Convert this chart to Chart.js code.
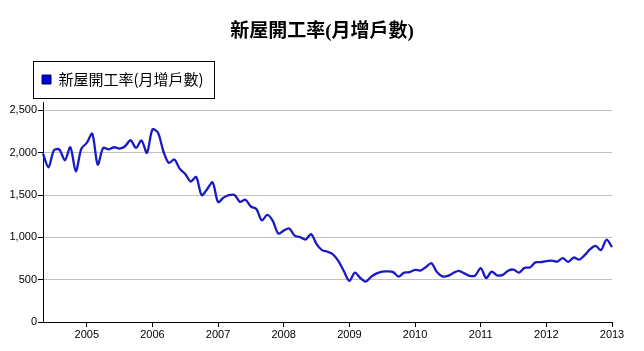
<!DOCTYPE html>
<html><head><meta charset="utf-8">
<script src="https://cdn.jsdelivr.net/npm/chart.js@4"></script>
<style>html,body{margin:0;padding:0;background:#fff}canvas{display:block}</style>
</head><body>
<canvas id="c" width="644" height="351"></canvas>
<script>
const chartTitle = '新屋開工率(月增戶數)';
const seriesName = '新屋開工率(月增戶數)';
const months = [
  '2004-05','2004-06','2004-07','2004-08','2004-09','2004-10','2004-11','2004-12',
  '2005-01','2005-02','2005-03','2005-04','2005-05','2005-06','2005-07','2005-08','2005-09','2005-10','2005-11','2005-12',
  '2006-01','2006-02','2006-03','2006-04','2006-05','2006-06','2006-07','2006-08','2006-09','2006-10','2006-11','2006-12',
  '2007-01','2007-02','2007-03','2007-04','2007-05','2007-06','2007-07','2007-08','2007-09','2007-10','2007-11','2007-12',
  '2008-01','2008-02','2008-03','2008-04','2008-05','2008-06','2008-07','2008-08','2008-09','2008-10','2008-11','2008-12',
  '2009-01','2009-02','2009-03','2009-04','2009-05','2009-06','2009-07','2009-08','2009-09','2009-10','2009-11','2009-12',
  '2010-01','2010-02','2010-03','2010-04','2010-05','2010-06','2010-07','2010-08','2010-09','2010-10','2010-11','2010-12',
  '2011-01','2011-02','2011-03','2011-04','2011-05','2011-06','2011-07','2011-08','2011-09','2011-10','2011-11','2011-12',
  '2012-01','2012-02','2012-03','2012-04','2012-05','2012-06','2012-07','2012-08','2012-09','2012-10','2012-11','2012-12',
  '2013-01'
];
const housingStarts = [
  1990, 1828, 2030, 2038, 1911, 2065, 1781, 2046,
  2117, 2225, 1860, 2058, 2040, 2065, 2050, 2077, 2148, 2058, 2145, 1999,
  2275, 2240, 2018, 1880, 1920, 1810, 1750, 1660, 1714, 1500, 1570, 1650,
  1418, 1470, 1500, 1500, 1420, 1445, 1365, 1335, 1200, 1265, 1195, 1045,
  1080, 1105, 1020, 1003, 975, 1039, 920, 850, 830, 800, 720, 600,
  486, 584, 520, 478, 537, 575, 596, 598, 589, 537, 584, 589,
  616, 608, 650, 695, 590, 540, 545, 580, 605, 575, 545, 550,
  636, 520, 596, 550, 557, 605, 620, 584, 640, 645, 705, 707,
  720, 725, 714, 755, 711, 762, 738, 790, 860, 900, 850, 972,
  885
];
const yTickValues = [0, 500, 1000, 1500, 2000, 2500];
const xTickYears = ['2005','2006','2007','2008','2009','2010','2011','2012','2013'];

const lineColor = '#1a1ac4';
const isYearTick = (i) => months[i] && months[i].endsWith('-01') && xTickYears.includes(months[i].slice(0, 4));

const boxShift = {
  id: 'boxShift',
  afterInit(chart) {
    const lg = chart.legend;
    const protoFit = Object.getPrototypeOf(lg).fit;
    lg.fit = function () { protoFit.call(this); this.height += 5; };
  },
  afterLayout(chart) {
    chart.legend.left = 32;
    if (chart.titleBlock) chart.titleBlock.left = 32;
  },
  afterDraw(chart) {
    const lg = chart.legend;
    const hb = lg.legendHitBoxes && lg.legendHitBoxes[0];
    if (!hb) return;
    const ctx = chart.ctx;
    const cy = hb.top + hb.height / 2;
    const left = lg.left + 1;
    const right = hb.left + hb.width + 10;
    const top = Math.round(cy - 18.5);
    ctx.save();
    ctx.strokeStyle = '#000';
    ctx.lineWidth = 1;
    ctx.strokeRect(left + 0.5, top + 0.5, Math.round(right - left), 37);
    ctx.restore();
  }
};

new Chart(document.getElementById('c'), {
  type: 'line',
  data: {
    labels: months,
    datasets: [{
      label: seriesName,
      data: housingStarts,
      borderColor: lineColor,
      backgroundColor: '#0000dd',
      borderWidth: 2.3,
      pointRadius: 0,
      pointHoverRadius: 0,
      tension: 0.3,
      fill: false
    }]
  },
  options: {
    responsive: false,
    devicePixelRatio: 1,
    animation: false,
    layout: { padding: { left: 0, right: 32, top: 0, bottom: 0 } },
    plugins: {
      title: {
        display: true,
        text: chartTitle,
        color: '#000',
        font: { family: '"Liberation Serif", "Noto Sans CJK TC", serif', size: 19, weight: 'bold' },
        padding: { top: 20.6, bottom: 18.6 }
      },
      legend: {
        display: true,
        position: 'top',
        align: 'start',
        labels: {
          boxWidth: 9,
          boxHeight: 9,
          padding: 10,
          color: '#000',
          font: { family: '"Noto Sans CJK TC", sans-serif', size: 15, weight: 'normal' },
          generateLabels(chart) {
            const items = Chart.defaults.plugins.legend.labels.generateLabels(chart);
            items.forEach(it => { it.lineWidth = 1; it.strokeStyle = '#000066'; it.fillStyle = '#0000dd'; });
            return items;
          }
        }
      },
      tooltip: { enabled: false }
    },
    scales: {
      x: {
        type: 'category',
        offset: false,
        afterFit(scale) { scale.height = 29; },
        grid: {
          drawOnChartArea: false,
          drawTicks: true,
          tickLength: 5,
          tickColor: (ctx) => isYearTick(ctx.index) ? '#000' : 'rgba(0,0,0,0)'
        },
        border: { display: true, color: '#000', width: 1 },
        ticks: {
          autoSkip: false,
          maxRotation: 0,
          minRotation: 0,
          padding: 1,
          color: '#000',
          font: { family: '"Liberation Sans", Arial, sans-serif', size: 11 },
          callback(value, index) { return isYearTick(index) ? months[index].slice(0, 4) : ''; }
        }
      },
      y: {
        min: 0,
        max: 2600,
        afterFit(scale) { scale.width = 43; },
        afterBuildTicks(scale) { scale.ticks = yTickValues.map(v => ({ value: v })); },
        grid: {
          color: (ctx) => (ctx.tick && ctx.tick.value === 0) ? 'rgba(0,0,0,0)' : '#c0c0c0',
          lineWidth: 1,
          drawTicks: true,
          tickLength: 5,
          tickColor: '#000'
        },
        border: { display: true, color: '#000', width: 1 },
        ticks: {
          padding: 1,
          color: '#000',
          font: { family: '"Liberation Sans", Arial, sans-serif', size: 11 },
          callback(value) { return value.toLocaleString('en-US'); }
        }
      }
    }
  },
  plugins: [boxShift]
});
</script>
</body></html>
